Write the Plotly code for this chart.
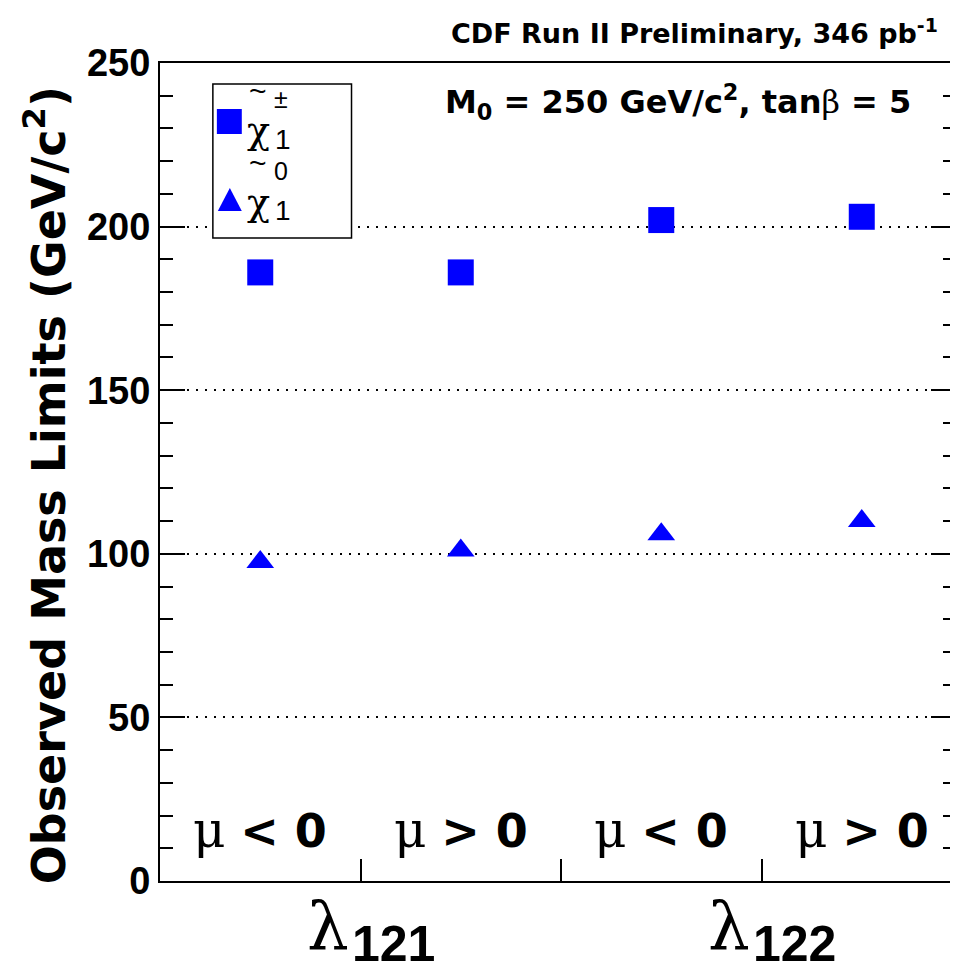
import plotly.graph_objects as go

# ---- data ----
x_pos = [0.5, 1.5, 2.5, 3.5]
chargino_limits = [186, 186, 202, 203]
neutralino_limits = [97.5, 101, 106, 110]
mu_labels = ["μ &lt; 0", "μ &gt; 0", "μ &lt; 0", "μ &gt; 0"]
coupling_pos = [1, 3]
coupling_labels = ["121", "122"]
y_ticks = [0, 50, 100, 150, 200, 250]

# page offset introduced by the default body margin
OFF = 8
W, H = 950, 969
L, R, T, B = 152, 0, 55, 96
PW, PH = W - L - R, H - T - B


def px(x):
    return (x - OFF - L) / PW


def py(y):
    return (H - B - (y - OFF)) / PH


BLUE = "#0000ff"
SANS = "Liberation Sans, Arial, sans-serif"
WIDE = "DejaVu Sans, Liberation Sans, sans-serif"
SERIF = "DejaVu Serif, Liberation Serif, serif"

fig = go.Figure()
fig.add_trace(go.Scatter(x=x_pos, y=chargino_limits, mode="markers",
                         marker=dict(symbol="square", size=26, color=BLUE),
                         showlegend=False, hoverinfo="skip"))
fig.add_trace(go.Scatter(x=x_pos, y=neutralino_limits, mode="markers",
                         marker=dict(symbol="triangle-up", size=24, color=BLUE),
                         showlegend=False, hoverinfo="skip"))

ann = []
# top title
ann.append(dict(text="<b>CDF Run II Preliminary, 346 pb<sup>-1</sup></b>", xref="paper", yref="paper",
                x=px(942), y=py(32), xanchor="right", yanchor="middle", showarrow=False,
                font=dict(family=WIDE, size=27, color="black")))
ann.append(dict(text="<b>M<sub>0</sub> = 250 GeV/c<sup>2</sup>, tan</b><span style='font-family:DejaVu Serif'>β</span><b> = 5</b>",
                xref="paper", yref="paper", x=px(444), y=py(102), xanchor="left", yanchor="middle",
                showarrow=False, font=dict(family=WIDE, size=32, color="black")))
# y title
ann.append(dict(text="<b>Observed Mass Limits (GeV/c<sup>2</sup>)</b>", xref="paper", yref="paper",
                x=px(45), y=py(485), xanchor="center", yanchor="middle", textangle=-90,
                showarrow=False, font=dict(family=WIDE, size=46, color="black")))
# mu labels
for xv, lab in zip(x_pos, mu_labels):
    sym, rest = lab.split(" ", 1)
    ann.append(dict(text="<span style='font-family:DejaVu Serif;font-size:50px'>" + sym + "</span> <b>" + rest + "</b>",
                    xref="x", yref="paper", x=xv, y=py(830), xanchor="center", yanchor="middle",
                    showarrow=False, font=dict(family=WIDE, size=46, color="black")))
# coupling labels
for xv, lab in zip(coupling_pos, coupling_labels):
    ann.append(dict(text="λ", xref="x", yref="paper", x=xv, y=py(926), xanchor="right",
                    yanchor="middle", xshift=-10, showarrow=False,
                    font=dict(family=SERIF, size=66, color="black")))
    ann.append(dict(text="<b>" + lab + "</b>", xref="x", yref="paper", x=xv, y=py(944),
                    xanchor="left", yanchor="middle", xshift=-11, showarrow=False,
                    font=dict(family=SANS, size=50, color="black")))

# legend texts
for yc, top in [(130, "±"), (202, "0")]:
    ann.append(dict(text="χ", xref="paper", yref="paper", x=px(245), y=py(yc), xanchor="left",
                    yanchor="middle", showarrow=False, font=dict(family=SERIF, size=38, color="black")))
    ann.append(dict(text="1", xref="paper", yref="paper", x=px(273), y=py(yc + 9), xanchor="left",
                    yanchor="middle", showarrow=False, font=dict(family=SANS, size=28, color="black")))
    ann.append(dict(text="~", xref="paper", yref="paper", x=px(247), y=py(yc - 40), xanchor="left",
                    yanchor="middle", showarrow=False, font=dict(family=SANS, size=30, color="black")))
    ann.append(dict(text=top, xref="paper", yref="paper", x=px(272), y=py(yc - 31), xanchor="left",
                    yanchor="middle", showarrow=False, font=dict(family=SANS, size=25, color="black")))

shapes = [
    dict(type="rect", xref="paper", yref="paper", x0=px(213), x1=px(352), y0=py(238), y1=py(84),
         line=dict(color="black", width=1.5), fillcolor="white", layer="above"),
    dict(type="rect", xref="paper", yref="paper", x0=px(217), x1=px(242), y0=py(134), y1=py(109),
         line=dict(width=0), fillcolor=BLUE, layer="above"),
    dict(type="path", xref="paper", yref="paper",
         path=f"M {px(218)},{py(211)} L {px(242)},{py(211)} L {px(230)},{py(188)} Z",
         line=dict(width=0), fillcolor=BLUE, layer="above"),
]

fig.update_layout(
    width=W, height=H, margin=dict(l=L, r=R, t=T, b=B),
    paper_bgcolor="white", plot_bgcolor="white",
    annotations=ann, shapes=shapes, showlegend=False,
    xaxis=dict(range=[0, 3.97], tickvals=[1, 2, 3],
               showticklabels=False, ticks="inside", ticklen=22, tickwidth=2, tickcolor="black",
               showline=True, linecolor="black", linewidth=2, mirror=True,
               showgrid=False, zeroline=False, fixedrange=True),
    yaxis=dict(range=[0, 250], tickvals=y_ticks, ticks="inside", ticklen=25, tickwidth=2,
               tickcolor="black", showline=True, linecolor="black", linewidth=2, mirror="ticks",
               showgrid=True, gridcolor="black", gridwidth=2, griddash="2px,7px",
               zeroline=False,
               minor=dict(dtick=10, ticks="inside", ticklen=13, tickwidth=2, tickcolor="black",
                          showgrid=False),
               tickfont=dict(family=SANS, size=38, color="black", weight="bold"),
               ticklabelstandoff=0, fixedrange=True),
)

fig.write_html("out.html")
